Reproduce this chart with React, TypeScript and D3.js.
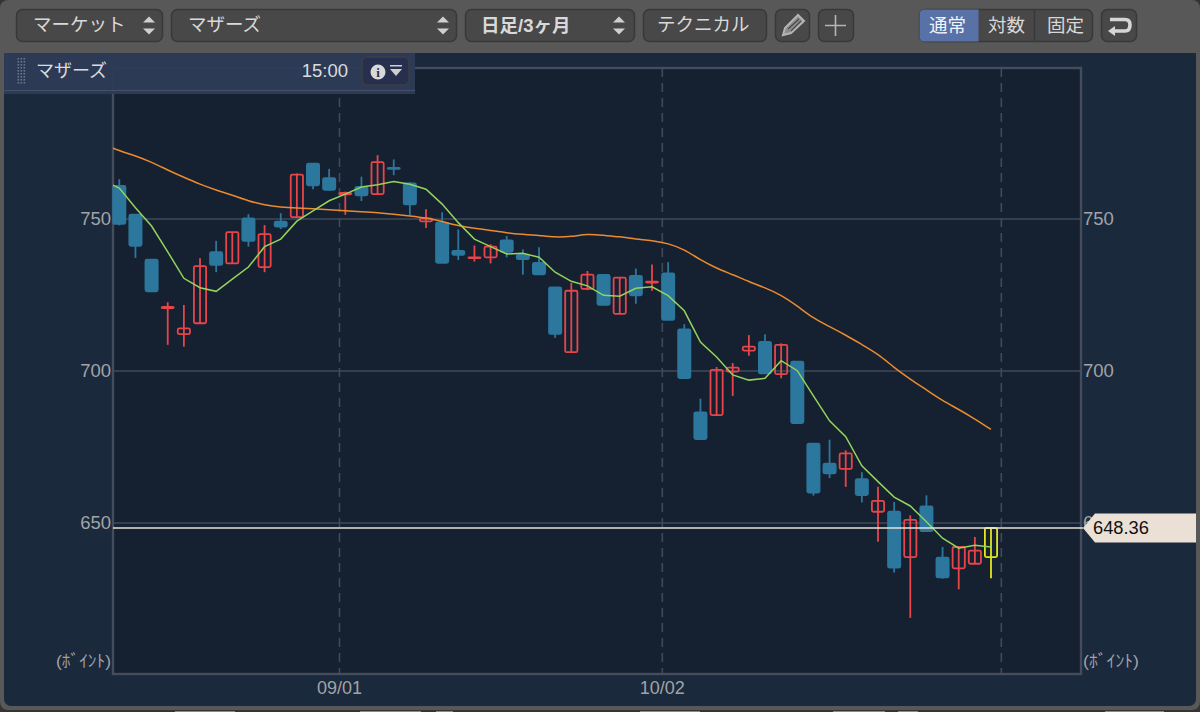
import React, { useEffect, useRef } from "react";
import * as d3 from "d3";

// daily candles, oldest first
const opens = [760.9, 751.4, 736.6, 720.7, 712.1, 715.7, 739.1, 735.4, 750.2, 734.2, 749.1, 750.6, 768.2, 763.4, 758.1, 760.6, 758.2, 766.8, 761.7, 749.2, 748.8, 739.5, 737.1, 737.4, 743.0, 738.2, 735.6, 727.5, 706.2, 727.0, 731.6, 718.8, 731.3, 729.1, 732.1, 713.7, 686.4, 685.5, 699.8, 706.7, 709.6, 699.0, 703.1, 676.1, 669.5, 667.8, 664.4, 653.7, 653.7, 638.8, 655.5, 638.6, 635.1, 636.6, 638.8];
const closes = [748.4, 741.2, 726.2, 721.1, 714.0, 734.5, 734.9, 745.7, 742.8, 745.0, 747.5, 764.6, 761.1, 759.6, 758.6, 757.8, 768.7, 766.5, 754.8, 750.2, 735.6, 738.2, 737.4, 740.9, 739.2, 736.8, 731.8, 712.2, 726.4, 731.7, 721.8, 730.7, 724.9, 729.4, 716.8, 697.7, 677.6, 700.4, 701.1, 708.0, 699.2, 708.6, 682.9, 660.0, 666.3, 672.9, 659.2, 657.3, 635.3, 651.0, 647.3, 632.1, 642.1, 640.9, 648.36];
const highs = [763.1, 751.4, 736.6, 722.6, 721.7, 737.1, 742.8, 745.7, 751.6, 748.0, 751.9, 765.0, 768.2, 766.5, 759.0, 763.9, 771.0, 769.6, 762.1, 753.2, 752.2, 746.6, 741.3, 741.7, 744.4, 740.0, 740.7, 727.5, 729.0, 732.9, 731.6, 730.7, 733.7, 735.0, 735.8, 715.4, 690.9, 701.3, 702.6, 711.8, 712.1, 709.1, 703.1, 676.1, 677.4, 673.9, 666.7, 661.9, 656.9, 652.5, 659.1, 642.1, 642.1, 645.4, 648.36];
const lows = [747.9, 737.2, 726.2, 708.6, 708.0, 715.7, 732.5, 735.4, 740.9, 732.5, 746.7, 750.6, 759.8, 759.3, 751.4, 755.9, 758.2, 764.4, 751.2, 747.0, 735.6, 736.5, 736.0, 735.4, 737.4, 731.7, 731.8, 710.9, 706.2, 726.6, 721.8, 718.8, 722.1, 726.4, 716.8, 697.7, 677.6, 685.5, 691.8, 705.0, 699.2, 697.6, 682.9, 659.0, 664.8, 661.9, 656.8, 643.8, 633.7, 618.8, 647.3, 631.7, 628.2, 636.6, 631.8];

// moving averages, first value belongs to the day before the first candle
const shortMa = [762.5, 760.2, 753.7, 747.7, 739.2, 730.5, 727.4, 726.2, 730.2, 734.2, 740.9, 743.4, 749.3, 752.7, 756.0, 758.2, 760.5, 761.3, 762.3, 761.4, 759.8, 754.9, 748.8, 743.4, 740.9, 738.5, 738.7, 737.4, 732.5, 729.5, 728.0, 724.9, 724.6, 727.2, 727.7, 724.8, 719.8, 709.5, 704.6, 698.7, 697.0, 697.6, 703.4, 700.1, 691.8, 683.6, 678.4, 668.8, 663.6, 658.5, 655.6, 650.4, 645.0, 641.7, 642.7, 642.1];
const longMa = [774.7, 772.4, 770.8, 768.7, 766.1, 763.7, 761.4, 759.5, 757.9, 755.9, 754.6, 753.9, 753.6, 753.4, 753.1, 752.7, 752.4, 752.1, 751.6, 751.0, 750.4, 749.2, 747.8, 746.9, 746.3, 745.4, 745.0, 744.6, 744.0, 744.2, 745.1, 744.6, 744.2, 743.4, 742.9, 742.0, 740.0, 736.5, 733.8, 731.7, 729.4, 727.4, 725.0, 721.4, 717.3, 714.6, 711.8, 708.7, 705.6, 701.1, 697.3, 693.8, 690.2, 687.4, 684.2, 680.8];

const priceTicks = [650, 700, 750];
const dateTicks = ["09/01", "10/02", ""];
const dateTickDays = [14, 34, 55];
const lastPrice = 648.36;

const FONT = '"Liberation Sans", "Noto Sans CJK JP", sans-serif';
const UNIT = "(ﾎﾞｲﾝﾄ)";
const plot = { left: 113, right: 1081, top: 68, bottom: 674 };

const Button = ({ x, w, y = 9, h = 32, active = false }: any) => (
  <rect x={x + 0.5} y={y + 0.5} width={w} height={h} rx={6} fill={active ? "#5871a6" : "#484848"} stroke="#383838" strokeWidth={1.5} />
);

const Updown = ({ x }: { x: number }) => (
  <g fill="#cfcfcf">
    <path d={`M${x - 6},22.5 L${x},16.5 L${x + 6},22.5 Z`} />
    <path d={`M${x - 6},28.5 L${x},34.5 L${x + 6},28.5 Z`} />
  </g>
);

export default function App() {
  const chartRef = useRef<SVGGElement>(null);

  useEffect(() => {
    const svg = d3.select(chartRef.current);
    svg.selectAll("*").remove();

    const x = d3.scaleLinear().domain([0, 54]).range([119.3, 991]);
    const y = d3.scaleLinear().domain([750, 650]).range([219, 523]);
    const days = d3.range(opens.length);
    const bodyWidth = 12.2;

    // horizontal grid + price axes
    svg
      .append("g")
      .attr("stroke", "#414958")
      .attr("stroke-width", 1.6)
      .selectAll("line")
      .data(priceTicks)
      .join("line")
      .attr("x1", plot.left)
      .attr("x2", plot.right)
      .attr("y1", (d) => y(d))
      .attr("y2", (d) => y(d));

    const styleAxis = (g: any) => {
      g.select(".domain").remove();
      g.selectAll(".tick line").remove();
      g.selectAll("text").attr("fill", "#a2a3a6").attr("font-size", 18.5).attr("font-family", FONT);
    };
    svg
      .append("g")
      .attr("transform", `translate(${plot.left - 2},0)`)
      .call(d3.axisLeft(y).tickValues(priceTicks).tickPadding(0).tickSize(0) as any)
      .call(styleAxis);
    svg
      .append("g")
      .attr("transform", `translate(${plot.right + 2},0)`)
      .call(d3.axisRight(y).tickValues(priceTicks).tickPadding(0).tickSize(0) as any)
      .call(styleAxis);

    // date lines, they sit a bit left of the day's candle
    const dateX = (i: number) => x(dateTickDays[i] - 0.36);
    svg
      .append("g")
      .attr("stroke", "#414958")
      .attr("stroke-width", 1.6)
      .attr("stroke-dasharray", "9 6")
      .selectAll("line")
      .data(dateTickDays)
      .join("line")
      .attr("x1", (_, i) => dateX(i))
      .attr("x2", (_, i) => dateX(i))
      .attr("y1", plot.top)
      .attr("y2", plot.bottom);
    svg
      .append("g")
      .selectAll("text")
      .data(dateTicks)
      .join("text")
      .attr("x", (_, i) => dateX(i))
      .attr("y", 693.5)
      .attr("text-anchor", "middle")
      .attr("fill", "#a2a3a6")
      .attr("font-size", 18)
      .attr("font-family", FONT)
      .text((d) => d);

    // plot frame
    svg
      .append("rect")
      .attr("x", plot.left)
      .attr("y", plot.top)
      .attr("width", plot.right - plot.left)
      .attr("height", plot.bottom - plot.top)
      .attr("fill", "none")
      .attr("stroke", "#454d5d")
      .attr("stroke-width", 2.4);

    const color = (i: number) => {
      if (i === opens.length - 1) return "#e4e61a";
      return closes[i] >= opens[i] ? "#e8454b" : "#2c779e";
    };

    // wicks
    svg
      .append("g")
      .attr("stroke-width", 1.8)
      .selectAll("line")
      .data(days)
      .join("line")
      .attr("x1", (i) => x(i))
      .attr("x2", (i) => x(i))
      .attr("y1", (i) => y(highs[i]))
      .attr("y2", (i) => y(lows[i]))
      .attr("stroke", (i) => color(i));

    // bodies, up days are hollow
    svg
      .append("g")
      .selectAll("rect")
      .data(days)
      .join("rect")
      .attr("x", (i) => x(i) - bodyWidth / 2)
      .attr("width", bodyWidth)
      .attr("y", (i) => y(Math.max(opens[i], closes[i])))
      .attr("height", (i) => Math.abs(y(opens[i]) - y(closes[i])))
      .attr("rx", 1.5)
      .attr("fill", (i) => (closes[i] >= opens[i] ? "none" : "#2c779e"))
      .attr("stroke", (i) => color(i))
      .attr("stroke-width", 1.8);

    // moving averages
    const clip = svg.append("clipPath").attr("id", "plot-clip");
    clip
      .append("rect")
      .attr("x", plot.left)
      .attr("y", plot.top)
      .attr("width", plot.right - plot.left)
      .attr("height", plot.bottom - plot.top);
    const maLine = d3
      .line<number>()
      .x((_, i) => x(i - 1))
      .y((d) => y(d));
    svg
      .append("path")
      .attr("d", maLine.curve(d3.curveBasis)(longMa))
      .attr("clip-path", "url(#plot-clip)")
      .attr("fill", "none")
      .attr("stroke", "#ec8a2e")
      .attr("stroke-width", 1.5);
    svg
      .append("path")
      .attr("d", maLine.curve(d3.curveLinear)(shortMa))
      .attr("clip-path", "url(#plot-clip)")
      .attr("fill", "none")
      .attr("stroke", "#93d45c")
      .attr("stroke-width", 1.5);

    // last price line and tag
    const py = y(lastPrice);
    svg
      .append("line")
      .attr("x1", plot.left)
      .attr("x2", plot.right + 2)
      .attr("y1", py)
      .attr("y2", py)
      .attr("stroke", "#e6e2d9")
      .attr("stroke-width", 1.7);
    svg
      .append("path")
      .attr("d", `M1083,${py} L1095,${py - 14.5} H1196 V${py + 14.5} H1095 Z`)
      .attr("fill", "#ebe0d5");
    svg
      .append("text")
      .attr("x", 1093)
      .attr("y", py + 6.5)
      .attr("fill", "#111")
      .attr("font-size", 18.3)
      .attr("font-family", FONT)
      .text(lastPrice.toFixed(2));
  }, []);

  return (
    <svg
      width={1200}
      height={712}
      style={{ position: "fixed", left: 0, top: 0, display: "block" }}
      fontFamily={FONT}
    >
      <rect width={1200} height={712} fill="#343434" />
      <rect width={1200} height={710} rx={8} fill="#585858" />
      <rect x={4} y={53} width={1192} height={653} fill="#1a293c" rx={7} />
      <rect x={4} y={53} width={1192} height={20} fill="#1a293c" />
      <rect x={plot.left} y={plot.top} width={plot.right - plot.left} height={plot.bottom - plot.top} fill="#152130" />

      {/* clipped labels of the panel below */}
      <g fill="#8a8a8a">
        <rect x={175} y={711} width={60} height={1} />
        <rect x={360} y={711} width={61} height={1} />
        <rect x={436} y={711} width={17} height={1} />
        <rect x={640} y={711} width={60} height={1} />
        <rect x={833} y={711} width={52} height={1} />
        <rect x={898} y={711} width={20} height={1} />
        <rect x={1105} y={711} width={59} height={1} />
      </g>

      <g ref={chartRef} />

      <text x={111} y={667} textAnchor="end" fontSize={17} fill="#a2a3a6" textLength={55} lengthAdjust="spacingAndGlyphs">{UNIT}</text>
      <text x={1083} y={667} fontSize={17} fill="#a2a3a6" textLength={56} lengthAdjust="spacingAndGlyphs">{UNIT}</text>

      {/* toolbar */}
      <Button x={16} w={146} />
      <Button x={171} w={285} />
      <Button x={465} w={169} />
      <Button x={643} w={123} />
      <Button x={775} w={34} />
      <Button x={818} w={35} />
      <Button x={919} w={173} />
      <path d="M925,9.5 H978.5 V41.5 H925 Q919.5,41.5 919.5,36 V15 Q919.5,9.5 925,9.5 Z" fill="#5871a6" />
      <line x1={1034.5} x2={1034.5} y1={10} y2={41} stroke="#383838" strokeWidth={1.5} />
      <Button x={1101} w={35} />
      <Updown x={149} />
      <Updown x={443} />
      <Updown x={619} />
      <g fontSize={18.5} fill="#d9d9d9">
        <text x={33} y={31}>マーケット</text>
        <text x={188} y={31}>マザーズ</text>
        <text x={481} y={32} fontWeight={700}>日足/3ヶ月</text>
        <text x={657} y={31}>テクニカル</text>
        <text x={929} y={32} fill="#f2f4fa">通常</text>
        <text x={988} y={32}>対数</text>
        <text x={1047} y={32}>固定</text>
      </g>
      <g fill="none" stroke="#b5b5b5">
        <path d="M783,35 L785,28 L798,15 L804,21 L791,33 Z" strokeWidth={2} fill="#8c8c8c" />
        <path d="M788,29 L799,19 M791,31 L801,21" strokeWidth={1.1} stroke="#484848" />
        <path d="M835.5,15 V36 M825,25.5 H846" strokeWidth={1.6} />
        <path d="M1110,19.5 H1125 Q1130,19.5 1130,25 Q1130,31 1125,31 H1112" strokeWidth={3.6} stroke="#d5d5d5" />
      </g>
      <path d="M1108,31 L1115,26 V36 Z" fill="#d5d5d5" />

      {/* header over the plot */}
      <rect x={4} y={53} width={411} height={41} fill="#2e3c58" fillOpacity={0.94} />
      <rect x={4} y={90} width={411} height={1} fill="#465068" />
      <g fill="#6d7588">
        {d3.range(9).flatMap((r) =>
          d3.range(3).map((c) => <rect key={`${r}-${c}`} x={17.5 + c * 3} y={58 + r * 3} width={1.6} height={1.6} />)
        )}
      </g>
      <text x={36} y={77} fontSize={18} fill="#dcdcdc">マザーズ</text>
      <text x={348} y={77} fontSize={18.5} fill="#dcdcdc" textAnchor="end">15:00</text>
      <rect x={362} y={57} width={47} height={28} rx={5} fill="#26304e" stroke="#3c3c44" strokeWidth={1.5} />
      <circle cx={378} cy={72} r={7.5} fill="#d8d8d8" />
      <text x={378} y={77} fontSize={13} fontWeight={700} textAnchor="middle" fill="#26304e" fontFamily="Liberation Serif">i</text>
      <path d="M390,65 H402 V66.5 H390 Z M390,69 H402 L396,76 Z" fill="#cfcfcf" />
    </svg>
  );
}
